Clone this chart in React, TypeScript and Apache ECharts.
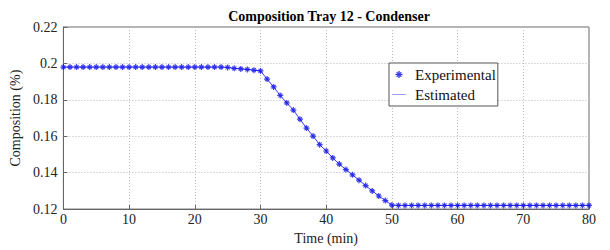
import React, { useEffect, useRef } from "react";
import * as echarts from "echarts";

const times: number[] = Array.from({ length: 81 }, (_, i) => i);
const experimental: number[] = [
  0.198, 0.198, 0.198, 0.198, 0.198, 0.198, 0.198, 0.198, 0.198, 0.198,
  0.198, 0.198, 0.198, 0.198, 0.198, 0.198, 0.198, 0.198, 0.198, 0.198,
  0.198, 0.198, 0.198, 0.198, 0.198, 0.1978, 0.1973, 0.197, 0.1967, 0.1963,
  0.1959, 0.1914, 0.1871, 0.1824, 0.1783, 0.1744, 0.1694, 0.1645, 0.1601, 0.1554,
  0.1519, 0.1481, 0.1447, 0.1417, 0.1388, 0.1359, 0.1329, 0.13, 0.1272, 0.1247,
  0.1222, 0.122, 0.122, 0.122, 0.122, 0.122, 0.122, 0.122, 0.122, 0.122,
  0.122, 0.122, 0.122, 0.122, 0.122, 0.122, 0.122, 0.122, 0.122, 0.122,
  0.122, 0.122, 0.122, 0.122, 0.122, 0.122, 0.122, 0.122, 0.122, 0.122,
  0.122,
];
const estimated: number[] = experimental.slice();
const xTicks = [0, 10, 20, 30, 40, 50, 60, 70, 80];
const yTicks = [0.12, 0.14, 0.16, 0.18, 0.2, 0.22];

const FONT = "'Liberation Serif', 'Times New Roman', serif";
const STAR =
  "path://M0 4H10V6H0Z M4 0H6V10H4Z M1 2.2L2.2 1L9 7.8L7.8 9Z M7.8 1L9 2.2L2.2 9L1 7.8Z";
const LINE_ICON =
  "path://M0 0H0.01V0.01H0Z M0 4.6H20V5.4H0Z M19.99 9.99H20V10H19.99Z";

export default function App() {
  const ref = useRef<HTMLDivElement>(null);
  useEffect(() => {
    const chart = echarts.init(ref.current!, null, { renderer: "svg" });
    const txt = { fontFamily: FONT, fontSize: 14, fontWeight: "normal", color: "#222" };
    chart.setOption({
      animation: false,
      backgroundColor: "#fff",
      textStyle: { fontFamily: FONT },
      title: {
        text: "Composition Tray 12 - Condenser",
        left: 324,
        textAlign: "center",
        top: 4,
        textStyle: { fontFamily: FONT, fontSize: 14, fontWeight: "bold", color: "#000" },
      },
      grid: {
        left: 59,
        right: 21,
        top: 27,
        bottom: 36,
        show: true,
        borderColor: "#666",
        borderWidth: 1,
        backgroundColor: "#fff",
      },
      legend: {
        left: 389,
        top: 63,
        orient: "vertical",
        padding: [4, 2, 4, 3],
        itemGap: 5,
        itemWidth: 22,
        itemHeight: 7,
        backgroundColor: "#fff",
        borderColor: "#555",
        borderWidth: 1,
        borderRadius: 0,
        textStyle: { ...txt, fontSize: 15, color: "#111" },
        data: [
          { name: "Experimental", icon: STAR },
          { name: "Estimated", icon: LINE_ICON },
        ],
      },
      xAxis: {
        type: "value",
        min: xTicks[0],
        max: xTicks[xTicks.length - 1],
        interval: 10,
        name: "Time (min)",
        nameLocation: "middle",
        nameGap: 19,
        nameTextStyle: txt,
        axisLine: { show: true, lineStyle: { color: "#666" } },
        axisTick: { show: true, inside: true, length: 4, lineStyle: { color: "#666" } },
        axisLabel: { ...txt, margin: 3 },
        splitLine: { show: true, lineStyle: { color: "#bbb", type: [1, 2], width: 1 } },
      },
      yAxis: {
        type: "value",
        min: yTicks[0],
        max: yTicks[yTicks.length - 1],
        interval: 0.02,
        name: "Composition (%)",
        nameLocation: "middle",
        nameGap: 30,
        nameTextStyle: txt,
        axisLine: { show: true, lineStyle: { color: "#666" } },
        axisTick: { show: true, inside: true, length: 4, lineStyle: { color: "#666" } },
        axisLabel: {
          ...txt,
          margin: 6,
          formatter: (v: number) => String(+v.toFixed(2)),
        },
        splitLine: { show: true, lineStyle: { color: "#bbb", type: [1, 2], width: 1 } },
      },
      series: [
        {
          name: "Estimated",
          type: "line",
          data: times.map((t, i) => [t, estimated[i]]),
          showSymbol: false,
          symbol: "none",
          lineStyle: { color: "#3a3aff", width: 1 },
          itemStyle: { color: "#3a3aff" },
          z: 2,
        },
        {
          name: "Experimental",
          type: "scatter",
          data: times.map((t, i) => [t, experimental[i]]),
          symbol: STAR,
          symbolSize: 6,
          itemStyle: { color: "#1010e8" },
          z: 3,
        },
      ],
    });
    return () => chart.dispose();
  }, []);
  return (
    <div
      ref={ref}
      style={{ position: "fixed", left: 0, top: 0, width: 610, height: 250 }}
    />
  );
}
